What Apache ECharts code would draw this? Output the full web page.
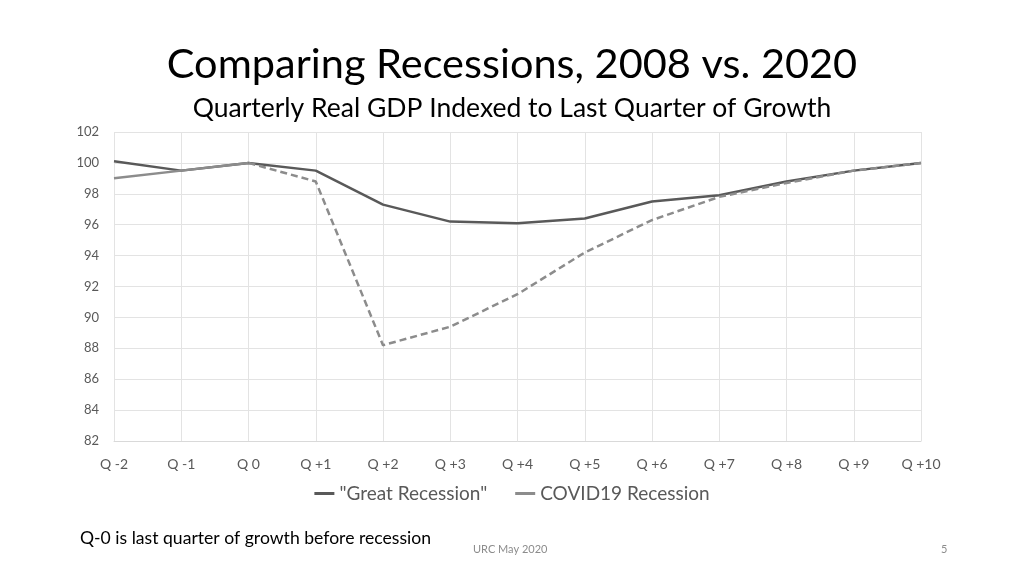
<!DOCTYPE html>
<html>
<head>
<meta charset="utf-8">
<script src="https://cdn.jsdelivr.net/npm/echarts@6/dist/echarts.min.js"></script>
<style>
html,body{margin:0;padding:0;background:#fff;}
#chart{width:1024px;height:576px;}
</style>
</head>
<body>
<div id="chart"></div>
<script>
const categories = ['Q -2','Q -1','Q 0','Q +1','Q +2','Q +3','Q +4','Q +5','Q +6','Q +7','Q +8','Q +9','Q +10'];
const greatRecession = [100.1, 99.5, 100, 99.5, 97.3, 96.2, 96.1, 96.4, 97.5, 97.9, 98.8, 99.5, 100];
const covidActual = [99.0, 99.5, 100, null, null, null, null, null, null, null, null, null, null];
const covidProjected = [null, null, 100, 98.8, 88.2, 89.4, 91.5, 94.2, 96.3, 97.8, 98.7, 99.5, 100];
const yTicks = [82, 84, 86, 88, 90, 92, 94, 96, 98, 100, 102];

const chart = echarts.init(document.getElementById('chart'));
const font = 'Lato, "Open Sans", sans-serif';
chart.setOption({
  animation: false,
  backgroundColor: '#ffffff',
  grid: {left: 114, right: 103, top: 132, bottom: 135},
  xAxis: {
    type: 'category',
    data: categories,
    boundaryGap: false,
    axisLine: {show: true, lineStyle: {color: '#d9d9d9'}},
    axisTick: {show: false},
    splitLine: {show: true, lineStyle: {color: '#e3e3e3'}},
    axisLabel: {color: '#595959', fontSize: 14, fontFamily: font, margin: 16}
  },
  yAxis: {
    type: 'value',
    min: yTicks[0],
    max: yTicks[yTicks.length - 1],
    interval: 2,
    axisLine: {show: false},
    axisTick: {show: false},
    splitLine: {lineStyle: {color: '#e3e3e3'}},
    axisLabel: {color: '#595959', fontSize: 13, fontFamily: font, margin: 15}
  },
  legend: {
    data: ['"Great Recession"', 'COVID19 Recession'],
    bottom: 68,
    left: 'center',
    itemWidth: 20,
    itemHeight: 3,
    itemGap: 28,
    icon: 'rect',
    textStyle: {color: '#595959', fontSize: 19, fontFamily: font}
  },
  series: [
    {
      name: '"Great Recession"',
      type: 'line',
      data: greatRecession,
      symbol: 'none',
      lineStyle: {color: '#595959', width: 2.5},
      itemStyle: {color: '#595959'}
    },
    {
      name: 'COVID19 Recession',
      type: 'line',
      data: covidActual,
      symbol: 'none',
      lineStyle: {color: '#8c8c8c', width: 2.5},
      itemStyle: {color: '#8c8c8c'}
    },
    {
      name: 'COVID19 Projected',
      type: 'line',
      data: covidProjected,
      symbol: 'none',
      lineStyle: {color: '#8c8c8c', width: 2.5, type: [7, 4]},
      itemStyle: {color: '#8c8c8c'}
    }
  ],
  graphic: [
    {type: 'text', left: 'center', top: 44, style: {text: 'Comparing Recessions, 2008 vs. 2020', font: '41.5px ' + font, fill: '#000'}},
    {type: 'text', left: 'center', top: 95, style: {text: 'Quarterly Real GDP Indexed to Last Quarter of Growth', font: '26.5px ' + font, fill: '#000'}},
    {type: 'text', left: 80, top: 529, style: {text: 'Q-0 is last quarter of growth before recession', font: '17.6px ' + font, fill: '#000'}},
    {type: 'text', left: 473, top: 544, style: {text: 'URC May 2020', font: '11px ' + font, fill: '#8c8c8c'}},
    {type: 'text', left: 941, top: 544, style: {text: '5', font: '11px ' + font, fill: '#8c8c8c'}}
  ]
});
</script>
</body>
</html>
